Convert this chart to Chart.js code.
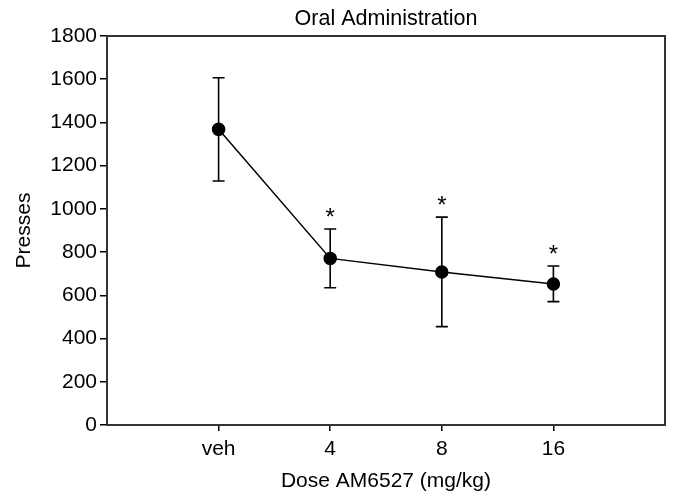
<!DOCTYPE html>
<html>
<head>
<meta charset="utf-8">
<script src="https://cdn.jsdelivr.net/npm/chart.js@4.4.1/dist/chart.umd.min.js"></script>
<style>
  html, body { margin: 0; padding: 0; background: #fff; }
  #wrap { width: 673px; height: 494px; }
</style>
</head>
<body>
<div id="wrap"><canvas id="c" width="673" height="494"></canvas></div>
<script>
// ---- data ----
const categories = ['veh', '4', '8', '16'];
const meanPresses = [1368, 771, 708, 652];
const errorUpper = [1607, 907, 962, 736];
const errorLower = [1129, 635, 455, 571];
const significant = [false, true, true, true];
const yTickValues = [0, 200, 400, 600, 800, 1000, 1200, 1400, 1600, 1800];
const chartTitle = 'Oral Administration';

const FONT = "'Liberation Sans', Arial, Helvetica, sans-serif";

const points = categories.map((c, i) => ({ x: i + 1, y: meanPresses[i] }));

const boxAndErrors = {
  id: 'boxAndErrors',
  afterDatasetsDraw(chart) {
    const { ctx, chartArea, scales } = chart;
    const xs = scales.x, ys = scales.y;
    ctx.save();
    // error bars
    ctx.strokeStyle = '#000';
    ctx.lineWidth = 1.6;
    categories.forEach((c, i) => {
      const px = xs.getPixelForValue(i + 1);
      const yu = ys.getPixelForValue(errorUpper[i]);
      const yl = ys.getPixelForValue(errorLower[i]);
      ctx.beginPath();
      ctx.moveTo(px, yu); ctx.lineTo(px, yl);
      ctx.moveTo(px - 6, yu); ctx.lineTo(px + 6, yu);
      ctx.moveTo(px - 6, yl); ctx.lineTo(px + 6, yl);
      ctx.stroke();
      if (significant[i]) {
        ctx.fillStyle = '#000';
        ctx.font = '24px ' + FONT;
        ctx.textAlign = 'center';
        ctx.textBaseline = 'alphabetic';
        ctx.fillText('*', px, yu - 4);
      }
    });
    // frame
    ctx.strokeStyle = '#333';
    ctx.lineWidth = 2;
    ctx.strokeRect(chartArea.left, chartArea.top, chartArea.right - chartArea.left, chartArea.bottom - chartArea.top);
    // title centred over the plot area
    ctx.fillStyle = '#000';
    ctx.font = '21.5px ' + FONT;
    ctx.textAlign = 'center';
    ctx.textBaseline = 'middle';
    ctx.fillText(chartTitle, (chartArea.left + chartArea.right) / 2, 19);
    ctx.restore();
  }
};

new Chart(document.getElementById('c'), {
  type: 'line',
  data: {
    datasets: [{
      data: points,
      borderColor: '#000',
      borderWidth: 1.5,
      backgroundColor: '#000',
      pointRadius: 6,
      pointHoverRadius: 6,
      pointBackgroundColor: '#000',
      pointBorderColor: '#000',
      tension: 0
    }]
  },
  options: {
    responsive: false,
    animation: false,
    layout: { padding: { left: 0, right: 8, top: 36, bottom: 0 } },
    plugins: {
      legend: { display: false },
      tooltip: { enabled: false },
      title: { display: false }
    },
    scales: {
      x: {
        type: 'linear',
        min: 0,
        max: 5,
        offset: false,
        afterFit(scale) { scale.height = 69; },
        afterBuildTicks(scale) { scale.ticks = [0, 1, 2, 3, 4, 5].map(v => ({ value: v })); },
        ticks: {
          color: '#000',
          font: { family: FONT, size: 21 },
          padding: 6,
          autoSkip: false,
          maxRotation: 0,
          callback: (v) => categories[v - 1] || ''
        },
        grid: {
          drawOnChartArea: false,
          tickLength: 6,
          lineWidth: 1.5,
          color: (ctx) => (ctx.tick && (ctx.tick.value === 0 || ctx.tick.value === 5)) ? 'rgba(0,0,0,0)' : '#000'
        },
        border: { display: false },
        title: {
          display: true,
          text: 'Dose AM6527 (mg/kg)',
          color: '#000',
          font: { family: FONT, size: 21 },
          padding: { top: 0, bottom: 0 }
        }
      },
      y: {
        min: 0,
        max: 1800,
        afterFit(scale) { scale.width = 107; },
        afterBuildTicks(scale) { scale.ticks = yTickValues.map(v => ({ value: v })); },
        ticks: {
          color: '#000',
          font: { family: FONT, size: 21 },
          padding: 3,
          callback: (v) => String(v)
        },
        grid: {
          drawOnChartArea: false,
          tickLength: 7,
          lineWidth: 1.5,
          color: '#000'
        },
        border: { display: false },
        title: {
          display: true,
          text: 'Presses',
          color: '#000',
          font: { family: FONT, size: 21 },
          padding: { top: 12, bottom: 0 }
        }
      }
    }
  },
  plugins: [boxAndErrors]
});
</script>
</body>
</html>
